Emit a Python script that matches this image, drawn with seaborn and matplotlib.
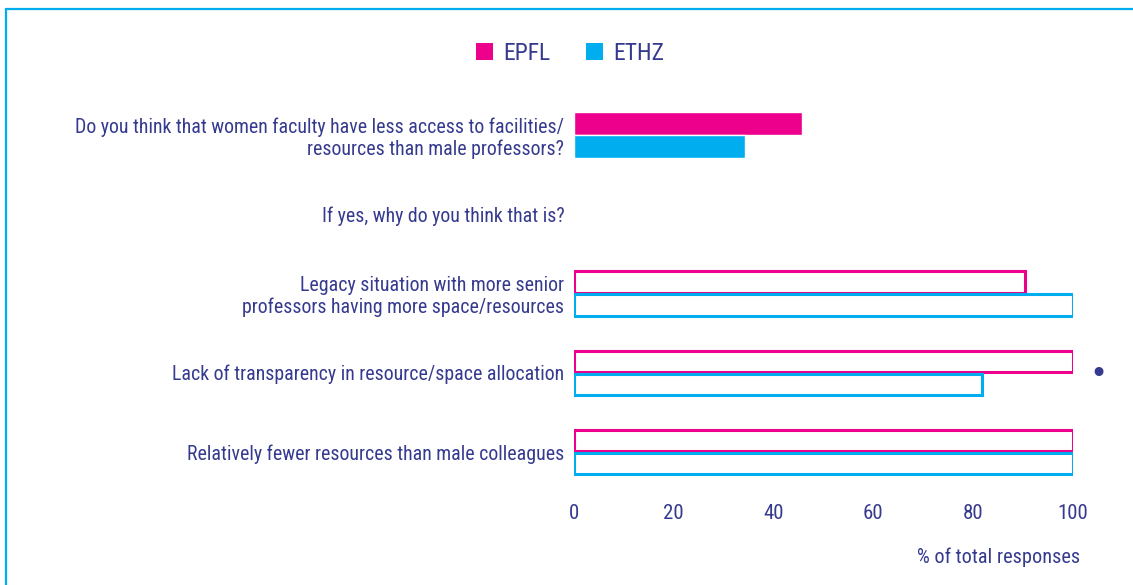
import pandas as pd
import matplotlib
matplotlib.use('Agg')
import matplotlib.pyplot as plt
import seaborn as sns
from matplotlib.lines import Line2D
from matplotlib.patches import Patch

# categories (top to bottom) and values
questions = [
    'Do you think that women faculty have less access to facilities/\nresources than male professors?',
    'If yes, why do you think that is?',
    'Legacy situation with more senior\nprofessors having more space/resources',
    'Lack of transparency in resource/space allocation',
    'Relatively fewer resources than male colleagues',
]
answered = [questions[0], questions[2], questions[3], questions[4]]
epfl = [45.6, 90.3, 100, 100]
ethz = [34.3, 100, 81.7, 100]
schools = ['EPFL', 'ETHZ']

pink = '#ec008c'
cyan = '#00aeef'
navy = '#353a8e'

df = pd.DataFrame({
    'question': answered * 2,
    'school': ['EPFL'] * len(epfl) + ['ETHZ'] * len(ethz),
    'pct': epfl + ethz,
})

sns.set_style('white')
plt.rcParams['font.family'] = ['Roboto Condensed', 'DejaVu Sans']
plt.rcParams['text.color'] = navy
plt.rcParams['xtick.color'] = navy
plt.rcParams['ytick.color'] = navy

fig = plt.figure(figsize=(11.33, 5.85), dpi=100)
ax = fig.add_axes([0.5066, 0.1597, 0.4404, 0.6772])

sns.barplot(data=df, y='question', x='pct', hue='school', order=questions,
            hue_order=schools, palette={'EPFL': pink, 'ETHZ': cyan},
            orient='h', width=0.58, saturation=1, legend=False, ax=ax)

# first question drawn as solid bars, the follow-ups as outlines
for cont, col in zip(ax.containers, [pink, cyan]):
    for bar in cont:
        yc = bar.get_y() + bar.get_height() / 2
        if round(yc) >= 1:
            bar.set_facecolor('white')
            bar.set_edgecolor(col)
            bar.set_linewidth(2.2)
            bar.set_height(bar.get_height() * 0.92)
            bar.set_y(yc - bar.get_height() / 2)

ax.set_xlim(0, 100)
ax.set_ylim(4.5, -0.5)
ax.set_xticks([0, 20, 40, 60, 80, 100])
ax.tick_params(axis='y', length=0, labelsize=14.3, colors=navy, pad=7)
ax.tick_params(axis='x', length=0, labelsize=15, colors=navy, pad=9)
for lab in ax.get_yticklabels():
    lab.set_multialignment('right')
    lab.set_linespacing(1.15)
sns.despine(ax=ax, left=True, bottom=True)
ax.set_ylabel('')
ax.set_xlabel('% of total responses', fontsize=14.6, color=navy, ha='right')
ax.xaxis.set_label_coords(1.014, -0.14)

handles = [Patch(facecolor=pink, edgecolor='none'), Patch(facecolor=cyan, edgecolor='none')]
fig.legend(handles, schools, loc='center', bbox_to_anchor=(0.503, 0.909), ncol=2,
           frameon=False, fontsize=17, handlelength=0.72, handleheight=0.72,
           handletextpad=0.45, columnspacing=1.5, labelcolor=navy)

# stray bullet next to the chart
fig.text(1098 / 1133, 1 - 374 / 585, '\u2022', color=navy, fontsize=22,
         ha='center', va='center', family='DejaVu Sans')

# cyan frame lines on the top and left
fig.add_artist(Line2D([6 / 1133, 1], [1 - 9 / 585, 1 - 9 / 585], transform=fig.transFigure,
                      color=cyan, linewidth=1.6))
fig.add_artist(Line2D([6 / 1133, 6 / 1133], [0, 1 - 9 / 585], transform=fig.transFigure,
                      color=cyan, linewidth=1.6))

fig.savefig('out.png', dpi=100)
